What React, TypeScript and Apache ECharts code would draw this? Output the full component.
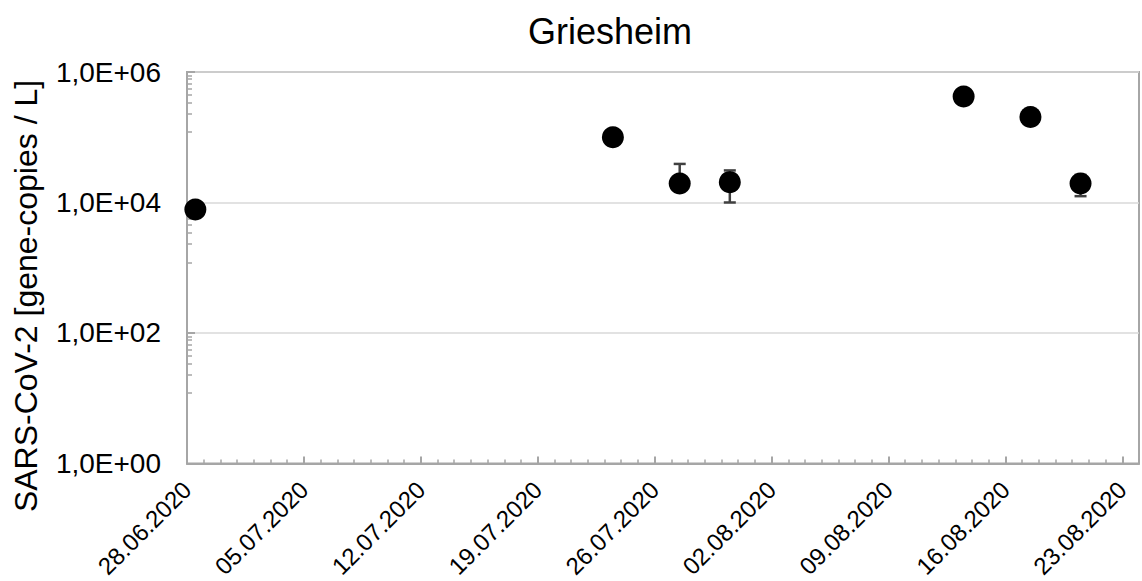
import React, { useEffect, useRef } from "react";
import * as echarts from "echarts";

const chartTitle = "Griesheim";
const yAxisTitle = "SARS-CoV-2 [gene-copies / L]";
const axisStartDate = "28.06.2020";
const axisSpanDays = 57;
const majorStepDays = 7;
const sampleDates = [
  "28.06.2020",
  "23.07.2020",
  "27.07.2020",
  "30.07.2020",
  "13.08.2020",
  "17.08.2020",
  "20.08.2020",
];
const geneCopies = [7800, 100000, 19500, 20500, 420000, 205000, 19500];
const errorValues = [0, 0, 19500, 10500, 0, 0, 7000];
const yMin = 1;
const yMax = 1000000;

const FONT = "'Liberation Sans', Arial, sans-serif";
const AXIS_GRAY = "#a6a6a6";
const DAY_MS = 86400000;

function parseDate(s: string): number {
  const [d, m, y] = s.split(".").map(Number);
  return Date.UTC(y, m - 1, d);
}
const baseMs = parseDate(axisStartDate);
function dayIndex(s: string): number {
  return Math.round((parseDate(s) - baseMs) / DAY_MS);
}
function pad2(n: number): string {
  return n < 10 ? "0" + n : String(n);
}
function formatDay(v: number): string {
  if (Math.abs(v % majorStepDays) > 1e-6) return "";
  const dt = new Date(baseMs + v * DAY_MS);
  return `${pad2(dt.getUTCDate())}.${pad2(dt.getUTCMonth() + 1)}.${dt.getUTCFullYear()}`;
}
function formatSci(v: number): string {
  const exp = Math.floor(Math.log10(v) + 1e-9);
  const mant = v / Math.pow(10, exp);
  return `${mant.toFixed(1).replace(".", ",")}E+${pad2(exp)}`;
}

export default function App() {
  const ref = useRef<HTMLDivElement>(null);

  useEffect(() => {
    if (!ref.current) return;
    const chart = echarts.init(ref.current, null, { renderer: "svg" });

    const points = sampleDates.map((s, i) => [dayIndex(s) + 0.5, geneCopies[i]]);
    const errPoints = sampleDates.map((s, i) => [dayIndex(s) + 0.5, geneCopies[i], errorValues[i]]);

    const option: any = {
      animation: false,
      backgroundColor: "#ffffff",
      title: {
        text: chartTitle,
        left: 523,
        top: 8,
        textStyle: { fontFamily: FONT, fontSize: 36, fontWeight: "normal", color: "#000" },
      },
      grid: {
        left: 187,
        right: 3,
        top: 72,
        bottom: 116,
        show: true,
        borderColor: AXIS_GRAY,
        borderWidth: 2,
        backgroundColor: "transparent",
      },
      xAxis: [
        {
          type: "value",
          min: 0,
          max: axisSpanDays,
          interval: majorStepDays,
          position: "bottom",
          axisLine: { show: true, lineStyle: { color: AXIS_GRAY, width: 2 } },
          axisTick: { show: true, inside: true, length: 7, lineStyle: { color: AXIS_GRAY, width: 2 } },
          splitLine: { show: false },
          axisLabel: {
            show: true,
            rotate: 45,
            margin: 22,
            fontFamily: FONT,
            fontSize: 24,
            color: "#000",
            showMaxLabel: false,
            formatter: (v: number) => formatDay(v),
          },
        },
        {
          type: "value",
          min: 0,
          max: axisSpanDays,
          interval: 1,
          position: "bottom",
          axisLine: { show: false },
          axisTick: { show: true, inside: true, length: 4, lineStyle: { color: AXIS_GRAY, width: 1.5 } },
          axisLabel: { show: false },
          splitLine: { show: false },
        },
      ],
      yAxis: {
        type: "log",
        logBase: 10,
        min: yMin,
        max: yMax,
        interval: 2,
        axisLine: { show: true, lineStyle: { color: AXIS_GRAY, width: 2 } },
        axisTick: { show: true, inside: true, length: 8, lineStyle: { color: AXIS_GRAY, width: 2 } },
        minorTick: { show: true, splitNumber: 9, length: 5, lineStyle: { color: AXIS_GRAY, width: 1.5 } },
        splitLine: { show: true, lineStyle: { color: "#d9d9d9", width: 1.5 } },
        axisLabel: {
          margin: 26,
          fontFamily: FONT,
          fontSize: 28,
          color: "#000",
          formatter: (v: number) => formatSci(v),
        },
      },
      graphic: [
        {
          type: "text",
          x: 26,
          y: 296,
          rotation: Math.PI / 2,
          style: {
            text: yAxisTitle,
            fontFamily: FONT,
            fontSize: 32,
            fill: "#000",
            textAlign: "center",
            textVerticalAlign: "middle",
          },
        },
      ],
      series: [
        {
          type: "custom",
          name: "error",
          z: 2,
          xAxisIndex: 0,
          encode: { x: 0, y: 1 },
          data: errPoints,
          renderItem: (params: any, api: any) => {
            const x = api.value(0);
            const v = api.value(1);
            const e = api.value(2);
            if (!(e > 0)) return { type: "group", children: [] };
            const hi = v + e;
            const lo = v - e;
            const pC = api.coord([x, v]);
            const pHi = api.coord([x, hi]);
            const pLo = lo > 0 ? api.coord([x, lo]) : pC;
            const style = { stroke: "#404040", lineWidth: 2.5 };
            const cap = 6;
            const children: any[] = [
              { type: "line", shape: { x1: pHi[0], y1: pHi[1], x2: pLo[0], y2: pLo[1] }, style },
              { type: "line", shape: { x1: pHi[0] - cap, y1: pHi[1], x2: pHi[0] + cap, y2: pHi[1] }, style },
            ];
            if (lo > 0) {
              children.push({ type: "line", shape: { x1: pLo[0] - cap, y1: pLo[1], x2: pLo[0] + cap, y2: pLo[1] }, style });
            }
            return { type: "group", children };
          },
        },
        {
          type: "scatter",
          name: "samples",
          z: 3,
          xAxisIndex: 0,
          symbol: "circle",
          symbolSize: 22,
          itemStyle: { color: "#000000", opacity: 1 },
          data: points,
        },
      ],
    };

    chart.setOption(option);
    return () => chart.dispose();
  }, []);

  return (
    <div
      ref={ref}
      style={{ position: "absolute", left: 0, top: 0, width: 1142, height: 581, background: "#fff" }}
    />
  );
}
